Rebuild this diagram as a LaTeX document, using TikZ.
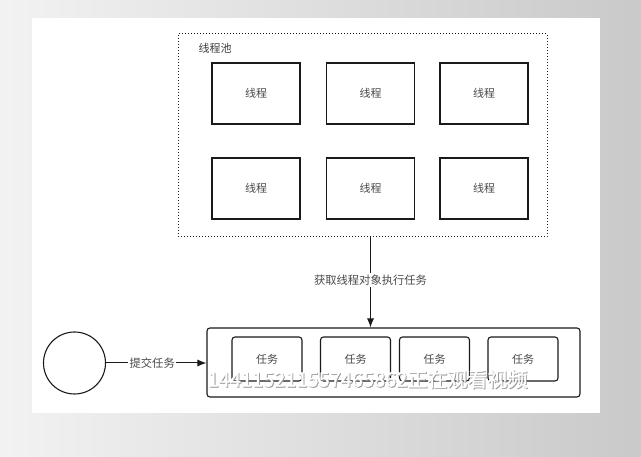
\documentclass[tikz,border=0pt]{standalone}
\usepackage{fontspec}
\setmainfont{Noto Sans CJK SC}
\newfontfamily\cjk{Noto Sans CJK SC}
\newfontfamily\wmfont[FakeBold=1.2]{Noto Sans CJK SC}
\usetikzlibrary{arrows.meta}

\definecolor{ink}{HTML}{1A1A1A}
\definecolor{txt}{HTML}{4A4A4A}
\definecolor{wmshade}{HTML}{9A9A9A}

% white lettering carrying its own grey drop shadow
\newcommand{\shadowed}[1]{%
  \makebox[0pt][l]{\kern0.9pt\raisebox{-0.9pt}{\textcolor{wmshade}{#1}}}%
  \textcolor{white}{#1}}

\tikzset{
  thread/.style={draw=ink, line width=1.1pt, minimum width=88pt, minimum height=61pt,
    inner sep=0pt, font=\cjk\fontsize{11}{12}\selectfont, text=txt},
  task/.style={draw=ink, line width=1.1pt, rounded corners=3pt, minimum width=70pt,
    minimum height=44pt, inner sep=0pt, font=\cjk\fontsize{11}{12}\selectfont, text=txt},
  pool/.style={draw=ink, line width=1pt, dotted, minimum width=369pt, minimum height=203pt, inner sep=0pt},
  queue/.style={draw=ink, line width=1.1pt, rounded corners=3pt, minimum width=373pt,
    minimum height=69pt, inner sep=0pt},
  arr/.style={draw=ink, line width=1pt, -{Latex[length=9pt,width=7pt]}},
  lbl/.style={fill=white, inner sep=1.5pt, font=\cjk\fontsize{11.3}{12}\selectfont, text=txt},
  wm/.style={font=\wmfont\fontsize{20}{21}\selectfont},
}

\begin{document}
\begin{tikzpicture}[x=1pt,y=-1pt]
\useasboundingbox (0,0) rectangle (641,457);
% backdrop and white sheet
\shade[shading=axis, shading angle=125, left color=black!5, right color=black!21] (0,0) rectangle (641,457);
\fill[white] (32,18) rectangle (600,413);

% thread pool
\node[pool] (pool) at (362.5,135.5) {};
\node[anchor=west, font=\cjk\fontsize{11}{12}\selectfont, text=ink!85] (title) at (195,48) {线程池};
\node[thread] (t1) at (256,93.5) {线程};
\node[thread] (t2) at (370.5,93.5) {线程};
\node[thread] (t3) at (484,93.5) {线程};
\node[thread] (t4) at (256,188.5) {线程};
\node[thread] (t5) at (370.5,188.5) {线程};
\node[thread] (t6) at (484,188.5) {线程};

% task queue
\node[queue] (queue) at (393.5,362.5) {};
\node[task] (k1) at (267,359) {任务};
\node[task] (k2) at (355.5,359) {任务};
\node[task] (k3) at (434.5,359) {任务};
\node[task] (k4) at (523,359) {任务};

% submitter
\node[draw=ink, line width=1.1pt, circle, minimum size=62pt, inner sep=0pt] (src) at (74.5,363) {};

% connectors
\draw[arr] (pool.south -| t2) -- node[lbl, pos=0.47] {获取线程对象执行任务} (queue.north -| t2);
\draw[arr] (src.east) -- node[lbl, pos=0.46] {提交任务} (src.east -| queue.west);

% overlay caption
\node[wm] (cap) at (367.5,379.5) {\shadowed{144115211557465862正在观看视频}};
\end{tikzpicture}
\end{document}
